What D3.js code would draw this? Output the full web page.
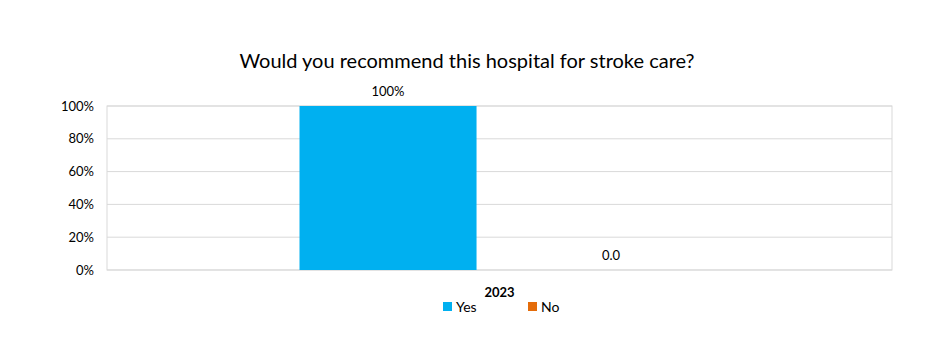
<!DOCTYPE html>
<html><head><meta charset="utf-8">
<script src="https://cdn.jsdelivr.net/npm/d3@7"></script>
<style>body{margin:0;background:#fff}</style>
</head><body>
<svg id="c" width="930" height="362"></svg>
<script>
const categories = ["2023"];
const seriesNames = ["Yes", "No"];
const yesValues = [1.0];
const noValues = [0.0];
const dataLabels = {Yes: ["100%"], No: ["0.0"]};
const yTicks = [0, 0.2, 0.4, 0.6, 0.8, 1.0];
const colors = {Yes: "#00B0F0", No: "#E46C0A"};
const title = "Would you recommend this hospital for stroke care?";

const font = "Lato, 'Open Sans', sans-serif";
const svg = d3.select("#c");
const L = 107, R = 892, T = 106, B = 270;

const y = d3.scaleLinear().domain([0, 1]).range([B, T]);
const x0 = d3.scaleBand().domain(categories).range([L, R]).paddingInner(0).paddingOuter(0.48125);
const x1 = d3.scaleBand().domain(seriesNames).range([0, x0.bandwidth()]).paddingInner(0.206).paddingOuter(0);

// title
svg.append("text").attr("x", 467).attr("y", 68).attr("text-anchor", "middle")
  .attr("font-family", font).attr("font-size", 20).attr("fill", "#000").text(title);

// gridlines
svg.append("g").selectAll("line").data(yTicks).join("line")
  .attr("x1", L).attr("x2", R).attr("y1", d => y(d)).attr("y2", d => y(d))
  .attr("stroke", "#d9d9d9").attr("stroke-width", 1);
svg.append("rect").attr("x", L).attr("y", T).attr("width", R - L).attr("height", B - T)
  .attr("fill", "none").attr("stroke", "#d9d9d9");

// y axis
const yAxis = d3.axisLeft(y).tickValues(yTicks).tickFormat(d3.format(".0%")).tickSize(0).tickPadding(13);
const ga = svg.append("g").attr("transform", `translate(${L},0)`).call(yAxis);
ga.select(".domain").remove();
ga.selectAll("text").attr("font-family", font).attr("font-size", 13).attr("fill", "#000");

// bars
const rows = categories.map((c, i) => ({cat: c, Yes: yesValues[i], No: noValues[i], idx: i}));
const g = svg.append("g");
rows.forEach(r => {
  seriesNames.forEach(s => {
    const bx = x0(r.cat) + x1(s);
    g.append("rect").attr("x", bx).attr("y", y(r[s])).attr("width", x1.bandwidth())
      .attr("height", B - y(r[s])).attr("fill", colors[s]);
    g.append("text").attr("x", bx + x1.bandwidth() / 2).attr("y", y(r[s]) - 10)
      .attr("text-anchor", "middle").attr("font-family", font).attr("font-size", 13)
      .attr("fill", "#000").text(dataLabels[s][r.idx]);
  });
  svg.append("text").attr("x", x0(r.cat) + x0.bandwidth() / 2).attr("y", 297)
    .attr("text-anchor", "middle").attr("font-family", font).attr("font-size", 13)
    .attr("font-weight", "bold").attr("fill", "#000").text(r.cat);
});

// legend
const legendX = {Yes: 443, No: 528};
seriesNames.forEach(s => {
  svg.append("rect").attr("x", legendX[s]).attr("y", 302).attr("width", 9).attr("height", 9).attr("fill", colors[s]);
  svg.append("text").attr("x", legendX[s] + 13).attr("y", 312).attr("font-family", font)
    .attr("font-size", 14).attr("fill", "#000").text(s);
});
</script>
</body></html>
